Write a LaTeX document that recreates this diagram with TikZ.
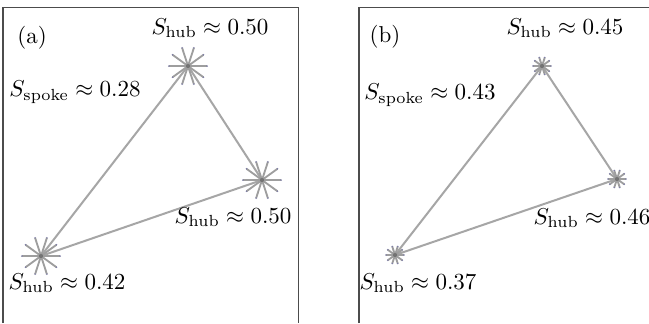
\documentclass[tikz,border=0pt]{standalone}
\begin{document}
\begin{tikzpicture}[x=0.4348pt,y=-0.4348pt,
  frame/.style={draw=black!70, line width=0.57pt},
  edge/.style={draw=black!35, line width=0.87pt},
  spoke/.style={draw=black!38, line width=0.8pt},
  tip/.style={fill=blue!30!black!50},
  hub/.style={circle, fill=black!55, inner sep=0pt, minimum size=1.8pt},
  lab/.style={inner sep=0pt, anchor=center}]
\useasboundingbox (0,0) rectangle (649,323);
\fill[white] (0,0) rectangle (649,323);
% frames
\draw[frame] (3,323) -- (3,7.5) -- (298.5,7.5) -- (298.5,323);
\draw[frame] (359,323) -- (359,7.5) -- (649,7.5);
% panel (a)
\node[hub] (a1) at (188,66) {};
\node[hub] (a2) at (262,180) {};
\node[hub] (a3) at (41,256) {};
\draw[edge] (a3.center) -- (a1.center);
\draw[edge] (a1.center) -- (a2.center);
\draw[edge] (a3.center) -- (a2.center);
\foreach \n in {a1,a2,a3}{
  \foreach \a in {0,36,...,324}{
    \draw[spoke] (\n.center) -- ++(\a:8.3pt) coordinate (t);
    \fill[tip] (t) circle (0.4pt);
  }
  \node[hub] at (\n.center) {};
}
\node[lab] (la) at (32,38) {(a)};
\node[lab] (la1) at (210,28) {$S_{\mathrm{hub}}\approx 0.50$};
\node[lab] (las) at (75,92) {$S_{\mathrm{spoke}}\approx 0.28$};
\node[lab] (la2) at (233,217) {$S_{\mathrm{hub}}\approx 0.50$};
\node[lab] (la3) at (67,283) {$S_{\mathrm{hub}}\approx 0.42$};
% panel (b)
\node[hub] (b1) at (542,66) {};
\node[hub] (b2) at (617,179) {};
\node[hub] (b3) at (395,255) {};
\draw[edge] (b3.center) -- (b1.center);
\draw[edge] (b1.center) -- (b2.center);
\draw[edge] (b3.center) -- (b2.center);
\foreach \n in {b1,b2,b3}{
  \foreach \a in {0,36,...,324}{
    \draw[spoke] (\n.center) -- ++(\a:3.9pt) coordinate (t);
    \fill[tip] (t) circle (0.4pt);
  }
  \node[hub] at (\n.center) {};
}
\node[lab] (lb) at (385,37) {(b)};
\node[lab] (lb1) at (565,28) {$S_{\mathrm{hub}}\approx 0.45$};
\node[lab] (lbs) at (430,95) {$S_{\mathrm{spoke}}\approx 0.43$};
\node[lab] (lb2) at (592,218) {$S_{\mathrm{hub}}\approx 0.46$};
\node[lab] (lb3) at (418,283) {$S_{\mathrm{hub}}\approx 0.37$};
\end{tikzpicture}
\end{document}
